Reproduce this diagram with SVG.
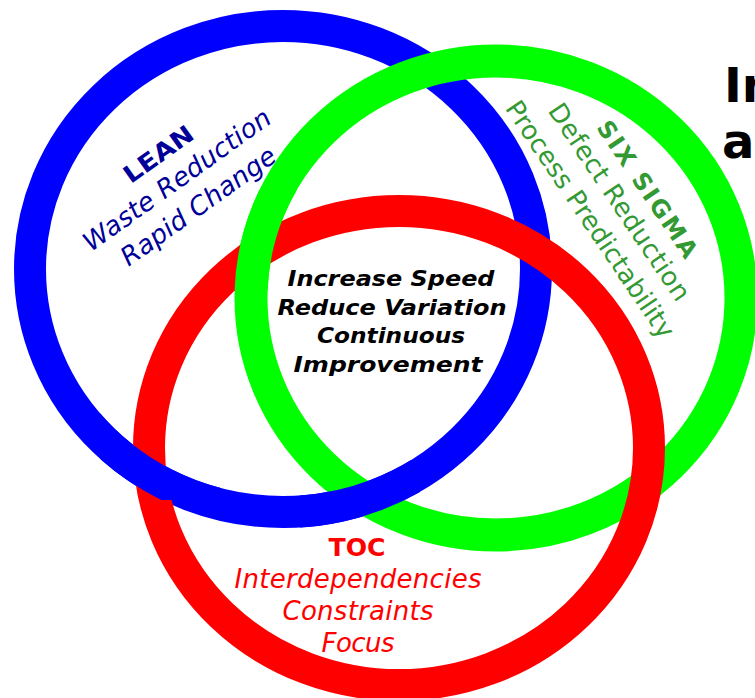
<svg xmlns="http://www.w3.org/2000/svg" width="755" height="698" viewBox="0 0 755 698">
  <style>
    .ring { fill: none; }
    .blue { stroke: #0000FF; stroke-width: 32; }
    .green { stroke: #00FF00; stroke-width: 33; }
    .red { stroke: #FF0000; stroke-width: 32; }
    text { font-family: "DejaVu Sans", Verdana, sans-serif; }
    .head { font-weight: bold; font-size: 24px; }
    .sub { font-size: 26px; }
    .it { font-style: italic; }
    .core { font-weight: bold; font-style: italic; font-size: 21px; fill: #000000; }
    .title { font-size: 48px; font-weight: bold; fill: #000000; }
  </style>
  <defs>
    <ellipse id="blueRing" cx="283" cy="269" rx="253" ry="243"/>
    <ellipse id="greenRing" cx="496" cy="298" rx="245" ry="237"/>
    <clipPath id="clipLeft"><rect x="100" y="380" width="120" height="120"/></clipPath>
    <clipPath id="clipUpper"><rect x="200" y="190" width="100" height="100"/></clipPath>
    <clipPath id="clipLower"><rect x="300" y="460" width="120" height="85"/></clipPath>
  </defs>

  <rect width="755" height="698" fill="#FFFFFF"/>

  <!-- interlocking rings -->
  <g id="rings">
    <g id="lean-ring"><use href="#blueRing" class="ring blue"/></g>
    <g id="sixsigma-ring"><use href="#greenRing" class="ring green"/></g>
    <g id="toc-ring"><ellipse class="ring red" cx="399" cy="448" rx="250" ry="237"/></g>
    <!-- over/under weaving at the crossings -->
    <use href="#blueRing" class="ring blue" clip-path="url(#clipLeft)"/>
    <use href="#greenRing" class="ring green" clip-path="url(#clipUpper)"/>
    <use href="#blueRing" class="ring blue" clip-path="url(#clipLower)"/>
  </g>

  <!-- title fragment running off the right edge -->
  <g id="title">
    <text class="title" x="724" y="102">In</text>
    <text class="title" x="722" y="158">an</text>
  </g>

  <g id="lean" transform="translate(182,187) rotate(-35.6)" fill="#000099" text-anchor="middle">
    <text class="head" x="0" y="-32" textLength="80" lengthAdjust="spacingAndGlyphs">LEAN</text>
    <text class="sub it" x="0" y="0" textLength="224">Waste Reduction</text>
    <text class="sub it" x="2" y="34" textLength="184">Rapid Change</text>
  </g>

  <g id="sixsigma" transform="translate(612,207) rotate(56)" fill="#339933" text-anchor="middle">
    <text class="head" x="5" y="-31" textLength="160">SIX SIGMA</text>
    <text class="sub" x="0" y="0" textLength="232">Defect Reduction</text>
    <text class="sub" x="-2" y="34" textLength="280">Process Predictability</text>
  </g>

  <g id="core" text-anchor="middle">
    <text class="core" x="391" y="286" textLength="207" lengthAdjust="spacingAndGlyphs">Increase Speed</text>
    <text class="core" x="392" y="315" textLength="229" lengthAdjust="spacingAndGlyphs">Reduce Variation</text>
    <text class="core" x="391" y="343" textLength="148" lengthAdjust="spacingAndGlyphs">Continuous</text>
    <text class="core" x="388" y="372" textLength="189" lengthAdjust="spacingAndGlyphs">Improvement</text>
  </g>

  <g id="toc" fill="#FF0000" text-anchor="middle">
    <text class="head" x="357" y="556" textLength="57" lengthAdjust="spacingAndGlyphs">TOC</text>
    <text class="sub it" x="358" y="588" textLength="247">Interdependencies</text>
    <text class="sub it" x="358" y="620" textLength="151">Constraints</text>
    <text class="sub it" x="358" y="652" textLength="73">Focus</text>
  </g>
</svg>
